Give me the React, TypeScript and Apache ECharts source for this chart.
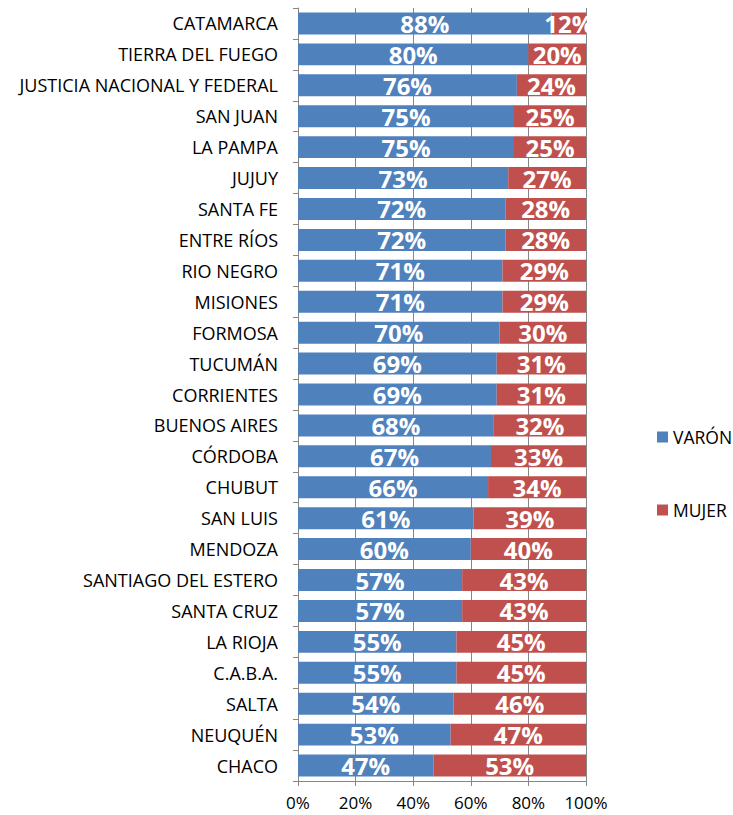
import React, { useEffect, useRef } from "react";
import * as echarts from "echarts";

const categories = [
  "CATAMARCA", "TIERRA DEL FUEGO", "JUSTICIA NACIONAL Y FEDERAL", "SAN JUAN", "LA PAMPA",
  "JUJUY", "SANTA FE", "ENTRE RÍOS", "RIO NEGRO", "MISIONES", "FORMOSA", "TUCUMÁN",
  "CORRIENTES", "BUENOS AIRES", "CÓRDOBA", "CHUBUT", "SAN LUIS", "MENDOZA",
  "SANTIAGO DEL ESTERO", "SANTA CRUZ", "LA RIOJA", "C.A.B.A.", "SALTA", "NEUQUÉN", "CHACO",
];
const varon = [88, 80, 76, 75, 75, 73, 72, 72, 71, 71, 70, 69, 69, 68, 67, 66, 61, 60, 57, 57, 55, 55, 54, 53, 47];
const mujer = [12, 20, 24, 25, 25, 27, 28, 28, 29, 29, 30, 31, 31, 32, 33, 34, 39, 40, 43, 43, 45, 45, 46, 47, 53];
const seriesNames = ["VARÓN", "MUJER"];

const FONT = "'Open Sans', Lato, sans-serif";

export default function App() {
  const ref = useRef<HTMLDivElement>(null);
  useEffect(() => {
    if (!ref.current) return;
    const chart = echarts.init(ref.current, undefined, { renderer: "svg" });
    const label = {
      show: true,
      position: "inside",
      color: "#fff",
      fontSize: 24,
      fontWeight: "bold",
      fontFamily: FONT,
      formatter: (p: any) => p.value + "%",
    };
    chart.setOption({
      animation: false,
      backgroundColor: "#fff",
      grid: { left: 298, right: 147, top: 8, bottom: 34, containLabel: false },
      legend: {
        orient: "vertical",
        left: 652,
        top: 423,
        itemGap: 55,
        itemWidth: 11,
        itemHeight: 11,
        itemStyle: { borderWidth: 0 },
        icon: "rect",
        textStyle: { fontFamily: FONT, fontSize: 17.5, color: "#000" },
        data: seriesNames,
      },
      xAxis: {
        type: "value",
        min: 0,
        max: 100,
        interval: 20,
        axisLabel: { formatter: "{value}%", fontFamily: FONT, fontSize: 17, lineHeight: 17, color: "#000", margin: 13 },
        axisLine: { show: true, lineStyle: { color: "#868686" } },
        axisTick: { show: true, length: 5, lineStyle: { color: "#868686" } },
        splitLine: { show: true, lineStyle: { color: "#868686", width: 1 } },
      },
      yAxis: {
        type: "category",
        inverse: true,
        data: categories,
        axisLabel: { fontFamily: FONT, fontSize: 18, color: "#000", margin: 20 },
        axisLine: { show: true, lineStyle: { color: "#868686" } },
        axisTick: { show: true, length: 5, lineStyle: { color: "#868686" } },
      },
      series: [
        {
          name: seriesNames[0],
          type: "bar",
          stack: "total",
          data: varon,
          barCategoryGap: "29%",
          itemStyle: { color: "#4F81BD" },
          label,
        },
        {
          name: seriesNames[1],
          type: "bar",
          stack: "total",
          data: mujer,
          itemStyle: { color: "#C0504D" },
          label,
        },
      ],
    });
    return () => chart.dispose();
  }, []);
  return (
    <div
      ref={ref}
      style={{ position: "fixed", left: 0, top: 0, width: 733, height: 815 }}
    />
  );
}
